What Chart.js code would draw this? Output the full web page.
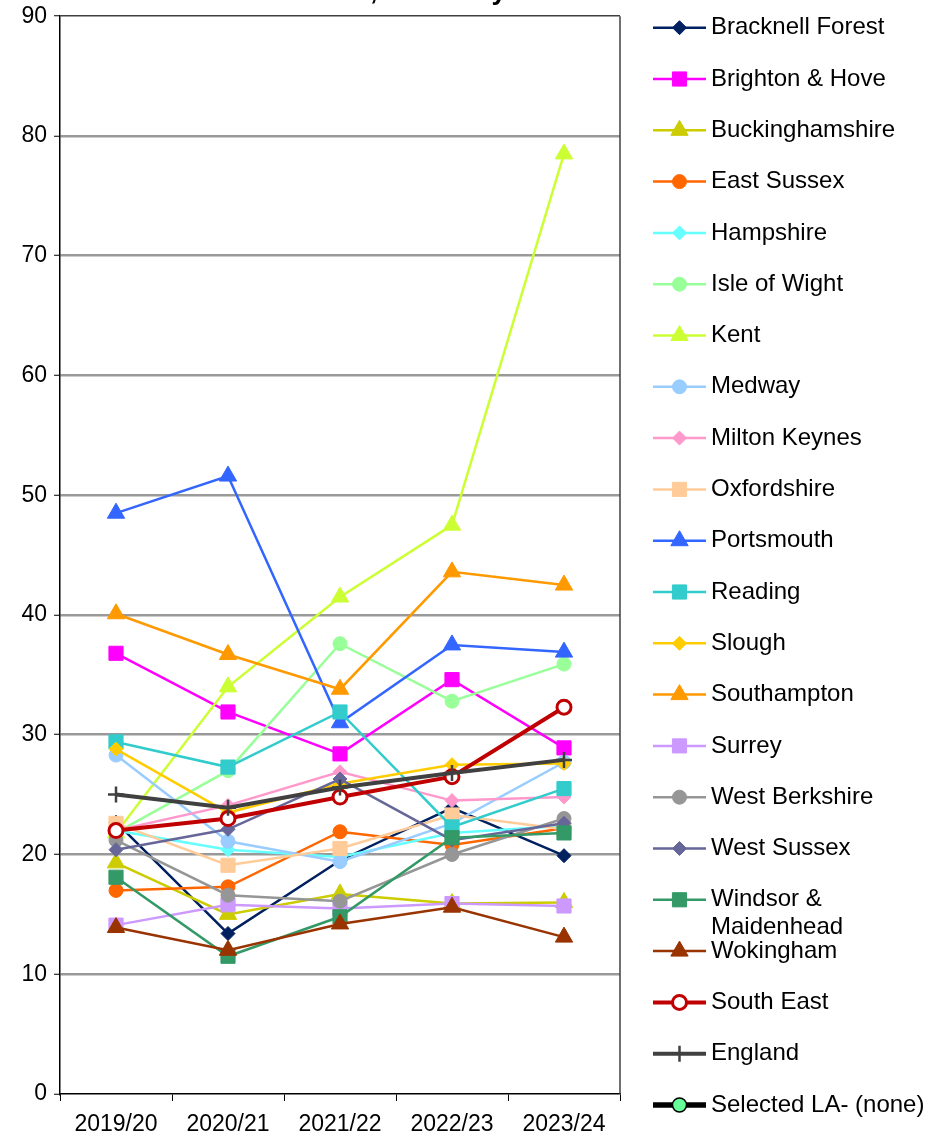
<!DOCTYPE html>
<html>
<head>
<meta charset="utf-8">
<script src="https://cdn.jsdelivr.net/npm/chart.js@4/dist/chart.umd.min.js"></script>
<style>
  body { margin: 0; background: #fff; }
  canvas { display: block; }
</style>
</head>
<body>
<canvas id="chart" width="926" height="1138"></canvas>
<script>
const years = ['2019/20', '2020/21', '2021/22', '2022/23', '2023/24'];
const yTicks = [0, 10, 20, 30, 40, 50, 60, 70, 80, 90];
const titleText = '10,000 0-17 year olds';

const bracknellForest = [22.7, 13.4, 19.5, 23.9, 19.9];
const brightonHove = [36.8, 31.9, 28.4, 34.6, 28.9];
const buckinghamshire = [19.3, 15.0, 16.7, 15.9, 16.0];
const eastSussex = [17.0, 17.3, 21.9, 20.8, 22.2];
const hampshire = [22.0, 20.4, 19.8, 21.8, 22.4];
const isleOfWight = [21.8, 27.0, 37.6, 32.8, 35.9];
const kent = [21.8, 34.0, 41.5, 47.5, 78.5];
const medway = [28.3, 21.1, 19.4, 22.6, 27.7];
const miltonKeynes = [22.0, 24.1, 26.9, 24.5, 24.8];
const oxfordshire = [22.6, 19.1, 20.5, 23.3, 22.1];
const portsmouth = [48.5, 51.6, 31.0, 37.5, 36.9];
const reading = [29.4, 27.3, 31.9, 22.3, 25.5];
const slough = [28.8, 23.5, 25.9, 27.5, 27.6];
const southampton = [40.1, 36.7, 33.8, 43.6, 42.5];
const surrey = [14.1, 15.8, 15.5, 15.9, 15.7];
const westBerkshire = [21.2, 16.6, 16.1, 20.0, 23.0];
const westSussex = [20.4, 22.1, 26.3, 21.2, 22.6];
const windsorMaidenhead = [18.1, 11.5, 14.8, 21.4, 21.8];
const wokingham = [13.9, 12.0, 14.2, 15.6, 13.1];
const southEast = [22.0, 23.0, 24.8, 26.5, 32.3];
const england = [25.0, 23.9, 25.6, 26.8, 27.9];
const selectedLA = [null, null, null, null, null];

const FONT = 'Arial, "Liberation Sans", sans-serif';

// label, values, colour, marker, marker radius
const series = [
  ['Bracknell Forest', bracknellForest, '#002060', 'rectRot', 7],
  ['Brighton & Hove', brightonHove, '#FF00FF', 'rect', 10],
  ['Buckinghamshire', buckinghamshire, '#CCCC00', 'triangle', 10],
  ['East Sussex', eastSussex, '#FF6600', 'circle', 7],
  ['Hampshire', hampshire, '#66FFFF', 'rectRot', 7],
  ['Isle of Wight', isleOfWight, '#99FF99', 'circle', 7],
  ['Kent', kent, '#CCFF33', 'triangle', 10],
  ['Medway', medway, '#99CCFF', 'circle', 7],
  ['Milton Keynes', miltonKeynes, '#FF99CC', 'rectRot', 7],
  ['Oxfordshire', oxfordshire, '#FFCC99', 'rect', 10],
  ['Portsmouth', portsmouth, '#3366FF', 'triangle', 10],
  ['Reading', reading, '#33CCCC', 'rect', 10],
  ['Slough', slough, '#FFCC00', 'rectRot', 7],
  ['Southampton', southampton, '#FF9900', 'triangle', 10],
  ['Surrey', surrey, '#CC99FF', 'rect', 10],
  ['West Berkshire', westBerkshire, '#969696', 'circle', 7],
  ['West Sussex', westSussex, '#666699', 'rectRot', 7],
  ['Windsor & Maidenhead', windsorMaidenhead, '#339966', 'rect', 10],
  ['Wokingham', wokingham, '#993300', 'triangle', 10],
];

const datasets = series.map(([label, data, color, style, r]) => ({
  label: label,
  data: data,
  borderColor: color,
  backgroundColor: color,
  borderWidth: 2.5,
  pointStyle: style,
  pointRadius: r,
  pointBorderWidth: 1,
  pointBackgroundColor: color,
  pointBorderColor: color,
  legendLine: 2.5,
}));

datasets.push({
  label: 'South East', data: southEast, borderColor: '#C00000', backgroundColor: '#FFFFFF',
  borderWidth: 4, pointStyle: 'circle', pointRadius: 7, pointBorderWidth: 3,
  pointBackgroundColor: '#FFFFFF', pointBorderColor: '#C00000', legendLine: 4,
});
datasets.push({
  label: 'England', data: england, borderColor: '#404040', backgroundColor: '#404040',
  borderWidth: 4, pointStyle: 'cross', pointRadius: 8, pointBorderWidth: 2.5,
  pointBackgroundColor: '#404040', pointBorderColor: '#404040', legendLine: 4,
});
datasets.push({
  label: 'Selected LA- (none)', data: selectedLA, borderColor: '#000000', backgroundColor: '#66FF99',
  borderWidth: 5, pointStyle: 'circle', pointRadius: 7, pointBorderWidth: 1.5,
  pointBackgroundColor: '#66FF99', pointBorderColor: '#000000', legendLine: 5.5,
});

// later series sit on top, like the original
datasets.forEach((ds, i) => { ds.order = datasets.length - i; ds.tension = 0; });

const sideLegend = {
  id: 'sideLegend',
  afterDraw(chart) {
    const ctx = chart.ctx;
    const area = chart.chartArea;
    ctx.save();

    // frame on the right of the plot
    ctx.strokeStyle = '#404040';
    ctx.lineWidth = 1.5;
    ctx.beginPath();
    ctx.moveTo(area.right, area.top);
    ctx.lineTo(area.right, area.bottom);
    ctx.stroke();

    // cut-off title at the top
    ctx.fillStyle = '#000';
    ctx.font = 'bold 27px ' + FONT;
    ctx.textAlign = 'center';
    ctx.textBaseline = 'alphabetic';
    ctx.fillText(titleText, 475, -1);

    const x0 = area.right + 33, x1 = area.right + 86, tx = area.right + 91;
    const top = 27.7, step = 51.3;
    ctx.font = '24px ' + FONT;
    ctx.textAlign = 'left';
    ctx.textBaseline = 'middle';
    chart.data.datasets.forEach((ds, i) => {
      const y = top + i * step;
      ctx.strokeStyle = ds.borderColor;
      ctx.lineWidth = ds.legendLine;
      ctx.beginPath();
      ctx.moveTo(x0, y);
      ctx.lineTo(x1, y);
      ctx.stroke();

      ctx.strokeStyle = ds.pointBorderColor;
      ctx.fillStyle = ds.pointBackgroundColor;
      ctx.lineWidth = ds.pointBorderWidth;
      Chart.helpers.drawPoint(ctx, {
        pointStyle: ds.pointStyle, radius: ds.pointRadius,
        borderWidth: ds.pointBorderWidth, rotation: 0
      }, (x0 + x1) / 2, y);

      // wrap long names
      ctx.fillStyle = '#000';
      const maxW = 218;
      const words = ds.label.split(' ');
      const lines = [];
      let cur = '';
      words.forEach(w => {
        const t = cur ? cur + ' ' + w : w;
        if (cur && ctx.measureText(t).width > maxW) { lines.push(cur); cur = w; } else { cur = t; }
      });
      lines.push(cur);
      lines.forEach((l, k) => ctx.fillText(l, tx, y + k * 28));
    });
    ctx.restore();
  }
};

new Chart(document.getElementById('chart'), {
  type: 'line',
  data: { labels: years, datasets: datasets },
  options: {
    responsive: false,
    animation: false,
    layout: { padding: { top: 16, right: 306, left: 0, bottom: 0 } },
    plugins: {
      legend: { display: false },
      title: { display: false },
      tooltip: { enabled: false },
    },
    scales: {
      x: {
        offset: true,
        grid: { offset: true, drawOnChartArea: false, color: '#000', tickLength: 7, lineWidth: 1 },
        border: { color: '#000', width: 1.5 },
        ticks: { color: '#000', font: { size: 23, family: FONT }, padding: 10, maxRotation: 0 },
        afterFit: (s) => { s.height = 44; },
      },
      y: {
        min: 0,
        max: 90,
        afterBuildTicks: (s) => { s.ticks = yTicks.map(v => ({ value: v })); },
        grid: {
          color: (c) => c.tick && c.tick.value === 90 ? '#404040' : (c.tick && c.tick.value === 0 ? 'rgba(0,0,0,0)' : '#999999'),
          lineWidth: (c) => c.tick && c.tick.value === 90 ? 1.5 : 2.5,
          tickColor: '#000',
          tickLength: 6,
          tickWidth: 1,
        },
        border: { color: '#000', width: 1.5 },
        ticks: { color: '#000', font: { size: 23, family: FONT, lineHeight: 0.8 }, padding: 7 },
        afterFit: (s) => { s.width = 60; },
      },
    },
  },
  plugins: [sideLegend],
});
</script>
</body>
</html>
